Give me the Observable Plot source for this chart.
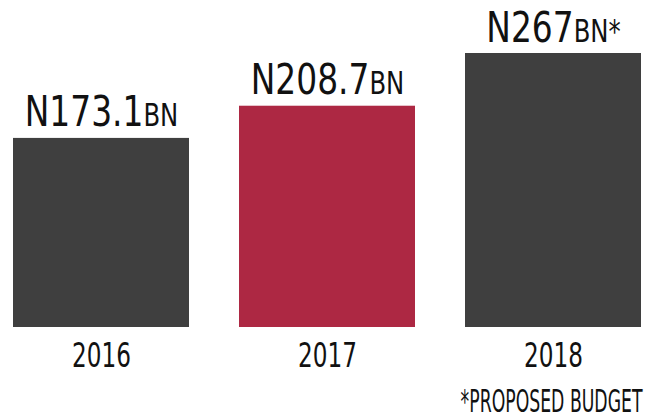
<!DOCTYPE html>
<html><head><meta charset="utf-8">
<script src="https://cdn.jsdelivr.net/npm/d3@7"></script>
<script src="https://cdn.jsdelivr.net/npm/@observablehq/plot@0.6"></script>
<style>
html,body{margin:0;padding:0;background:#fff;}
</style></head>
<body><div id="chart"></div>
<script>
const years = ["2016", "2017", "2018"];
const values = [173.1, 208.7, 267];
const amountLabels = ["N173.1", "N208.7", "N267"];
const unitLabels = ["BN", "BN", "BN*"];
const barColors = ["#3f3f3f", "#ad2843", "#3f3f3f"];
const footnote = "*PROPOSED BUDGET";

const data = years.map((y, i) => ({year: y, value: values[i], amount: amountLabels[i], unit: unitLabels[i], color: barColors[i]}));
const FONT = '"Liberation Sans Narrow", "DejaVu Sans Condensed", "Arial Narrow", sans-serif';
const base = -36;

const chart = Plot.plot({
  width: 656,
  height: 419,
  marginLeft: 13,
  marginRight: 14,
  marginTop: 53,
  marginBottom: 92,
  style: {fontFamily: FONT, background: "#fff", color: "#111"},
  x: {domain: years, paddingInner: 0.221, paddingOuter: 0, label: null},
  y: {domain: [base, 267], axis: null},
  marks: [
    Plot.barY(data, {x: "year", y1: () => base, y2: "value", fill: "color"}),
    Plot.text(data, {x: "year", y: "value", text: "amount", lineAnchor: "bottom", dy: -12, fontSize: 42, fill: "#111", className: "amt"}),
    Plot.axisX({tickSize: 0, tickPadding: 16, fontSize: 33, fill: "#111", className: "yr"}),
    Plot.text([footnote], {frameAnchor: "bottom-right", text: d => d, fontSize: 32, dy: 84, dx: 0, fill: "#111", lineAnchor: "bottom", className: "foot"})
  ]
});
// append small-caps unit to each amount label
d3.select(chart).selectAll("g.amt text").each(function(_, i) {
  d3.select(this).append("tspan").attr("font-size", "0.74em").text(unitLabels[i]);
});
// horizontally condense text around its anchor point
function squeeze(selector, s) {
  d3.select(chart).selectAll(selector).each(function() {
    let t = this.getAttribute("transform") || "";
    const x = this.getAttribute("x");
    if (x != null && !isNaN(+x)) {
      t = `translate(${+x},0) ` + t;
      this.removeAttribute("x");
    }
    this.setAttribute("transform", `${t} scale(${s},1)`);
  });
}
squeeze("g.amt text", 0.87);
squeeze("g.yr text", 0.78);
squeeze("g.foot text", 0.6);
document.getElementById("chart").appendChild(chart);
</script></body></html>
